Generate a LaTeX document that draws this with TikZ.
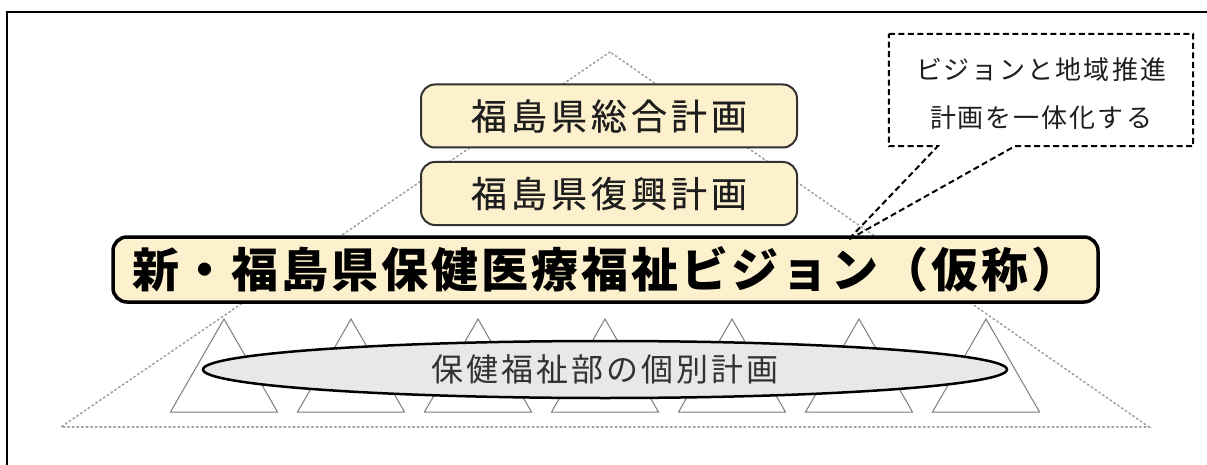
\documentclass[tikz,border=0pt]{standalone}
\usepackage{fontspec}
\newfontfamily\cjk{Noto Sans CJK JP}
\newfontfamily\cjkm[FakeBold=0.4]{Noto Sans CJK JP}
\usetikzlibrary{shapes.geometric,calc}
\definecolor{cream}{RGB}{253,240,204}
\definecolor{boxedge}{RGB}{50,50,50}
\definecolor{ellgray}{RGB}{232,232,232}
\definecolor{trigray}{RGB}{125,125,125}
\definecolor{dotgray}{RGB}{160,160,160}
\definecolor{txtdark}{RGB}{30,30,30}
\definecolor{txtgray}{RGB}{50,50,50}
\newlength\cw
\def\cjrow#1{\cjrowi#1\relax}
\def\cjrowi#1{\ifx#1\relax\else\makebox[\cw]{#1}\expandafter\cjrowi\fi}
\tikzset{
  planbox/.style={draw=boxedge, fill=cream, line width=2pt, rounded corners=14pt,
    minimum width=376pt, minimum height=63pt, inner sep=0pt,
    font=\cjkm\fontsize{36}{40}\selectfont\setlength\cw{40pt}, text=txtdark},
  visionbox/.style={draw=black, fill=cream, line width=3.5pt, rounded corners=14pt,
    minimum width=985pt, minimum height=65pt, inner sep=0pt,
    font=\cjk\bfseries\fontsize{47}{52}\selectfont\setlength\cw{50pt}, text=black},
  mount/.style={draw=trigray, line width=1pt},
  bigtri/.style={draw=dotgray, line width=1.6pt, dash pattern=on 1.6pt off 3pt, line cap=round},
  planell/.style={ellipse, draw=black, fill=ellgray, line width=2.5pt,
    minimum width=804pt, minimum height=57pt, inner sep=0pt},
  elltext/.style={font=\cjk\fontsize{32}{36}\selectfont\setlength\cw{35pt}, text=txtgray},
  noteframe/.style={minimum width=304pt, minimum height=112pt, inner sep=0pt},
  notetext/.style={font=\cjk\fontsize{26}{48}\selectfont\setlength\cw{28pt}, text=txtdark, align=center, inner sep=0pt},
  notedash/.style={draw=black, line width=2pt, dash pattern=on 6pt off 3.5pt},
}
\begin{document}
\begin{tikzpicture}[x=1pt,y=-1pt]
\useasboundingbox (0,0) rectangle (1207,465);
\fill[white] (0,0) rectangle (1207,465);
% outer frame
\draw[line width=2.5pt] (7,466) -- (7,12) -- (1208,12);
% big dotted triangle
\coordinate (apex) at (610,52);
\coordinate (bl) at (61,427);
\coordinate (br) at (1149,427);
\draw[bigtri] (apex) -- (bl) -- (br) -- cycle;
% small triangles
\foreach \i in {0,...,6}{
  \pgfmathsetmacro{\cx}{224+127*\i}
  \draw[mount] (\cx,319) -- (\cx-53.5,412) -- (\cx+53.5,412) -- cycle;
}
% ellipse
\node[planell] (plans) at (605,369.5) {};
\node[elltext] (planstext) at (plans.center) {\cjrow{保健福祉部の個別計画}};
% plan boxes
\node[planbox] (sogo) at (609,116) {\cjrow{福島県総合計画}};
\node[planbox] (fukko) at (609,193.5) {\cjrow{福島県復興計画}};
\node[visionbox] (vision) at (605.5,269.5) {\cjrow{新・福島県保健医療福祉ビジョン（仮称）}};
% callout
\node[noteframe] (note) at (1041,90) {};
\node[notetext] (notetxt) at (1041,94) {\cjrow{ビジョンと地域推進}\\\cjrow{計画を一体化する}};
\coordinate (tip) at (848,240);
\draw[notedash] (note.north west) -- (note.north east) -- (note.south east)
  -- ($(note.south west)+(126,0)$) -- (tip) -- ($(note.south west)+(49,0)$)
  -- (note.south west) -- cycle;
\end{tikzpicture}
\end{document}
